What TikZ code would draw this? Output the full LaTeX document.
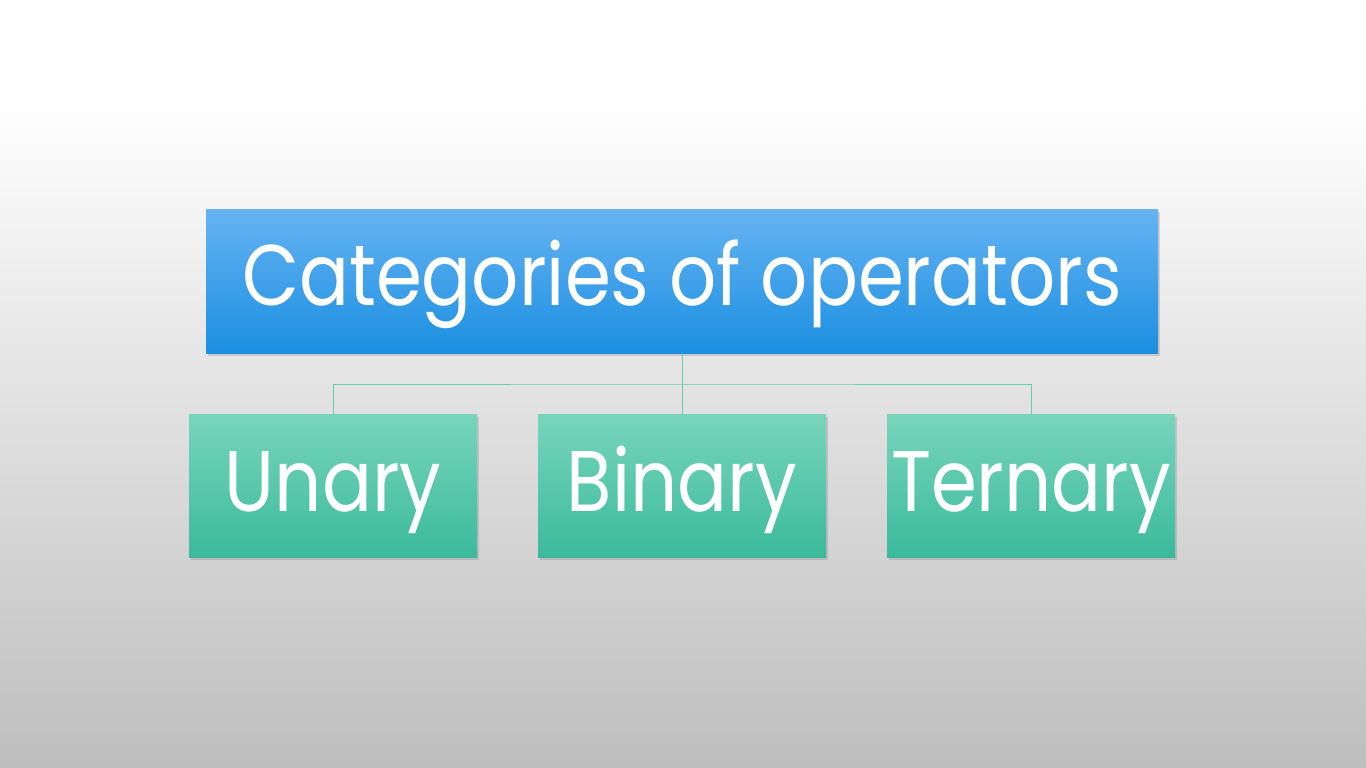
\documentclass[tikz,border=0pt]{standalone}
\usepackage{fontspec}
\setmainfont{Poppins}
\usetikzlibrary{shadows}
\definecolor{bluetop}{HTML}{66B3F3}
\definecolor{bluebot}{HTML}{1B8FE0}
\definecolor{tealtop}{HTML}{78D5BC}
\definecolor{tealbot}{HTML}{3BBA9B}
\definecolor{linecol}{HTML}{5FCFB0}
\definecolor{bgbot}{HTML}{BEBEBE}
\tikzset{
  topbox/.style={rectangle, minimum width=952pt, minimum height=144pt, inner sep=0pt,
    top color=bluetop, bottom color=bluebot, text=white,
    drop shadow={opacity=0.3, shadow xshift=2pt, shadow yshift=-3pt}},
  childbox/.style={rectangle, minimum width=288pt, minimum height=143pt, inner sep=0pt,
    top color=tealtop, bottom color=tealbot, text=white,
    drop shadow={opacity=0.3, shadow xshift=2pt, shadow yshift=-3pt}},
  conn/.style={draw=linecol, line width=1pt},
  bigtext/.style={font=\fontsize{86}{90}\selectfont},
}
\newcommand{\lbl}[2]{\raisebox{-#1}[0pt][0pt]{\scalebox{0.86}[1]{#2}}}
\begin{document}
\begin{tikzpicture}[x=1pt,y=-1pt]
\useasboundingbox (0,0) rectangle (1366,768);
\fill[white] (0,0) rectangle (1366,100);
\shade[top color=white, bottom color=bgbot] (0,99) rectangle (1366,768);
\node[topbox, bigtext] (top) at (682,281) {\lbl{24pt}{Categories of operators}};
\node[childbox, bigtext] (unary) at (333,485.5) {\lbl{26pt}{Unary}};
\node[childbox, bigtext] (binary) at (682,485.5) {\lbl{26pt}{Binary}};
\node[childbox, bigtext] (ternary) at (1031,485.5) {\lbl{26pt}{Ternary}};
\coordinate (bus) at (682,384);
\draw[conn] (top.south) -- (binary.north);
\draw[conn] (unary.north) |- (bus) -| (ternary.north);
\end{tikzpicture}
\end{document}
